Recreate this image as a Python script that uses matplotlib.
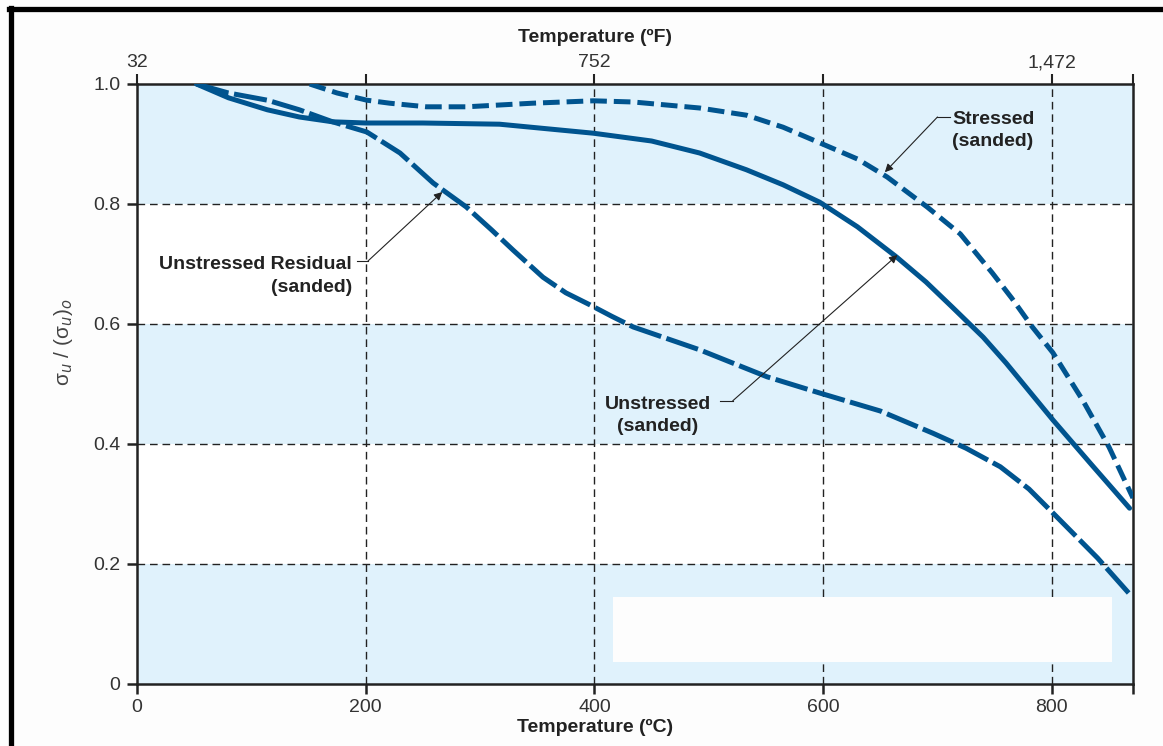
import matplotlib
matplotlib.use("Agg")
import matplotlib.pyplot as plt
from matplotlib.patches import Rectangle
from matplotlib.lines import Line2D

plt.rcParams['font.family'] = ['Liberation Sans', 'DejaVu Sans']
plt.rcParams['lines.scale_dashes'] = False

# temperature (C) vs normalised strength
t_unstressed = [52, 80, 114, 142, 171, 200, 250, 317, 399, 450, 492, 533, 565, 597, 630, 664, 690,
                713, 740, 760, 801, 835, 868]
s_unstressed = [1.0, 0.977, 0.957, 0.945, 0.937, 0.935, 0.935, 0.933, 0.918, 0.905, 0.885, 0.857,
                0.832, 0.803, 0.762, 0.712, 0.67, 0.628, 0.578, 0.535, 0.44, 0.365, 0.293]

t_residual = [52, 80, 114, 142, 171, 201, 230, 259, 288, 310, 329, 355, 375, 396, 415, 434, 492,
              551, 597, 650, 696, 725, 755, 780, 801, 840, 868]
s_residual = [1.0, 0.985, 0.973, 0.957, 0.937, 0.92, 0.885, 0.835, 0.795, 0.757, 0.723, 0.678,
              0.652, 0.632, 0.613, 0.595, 0.557, 0.512, 0.485, 0.455, 0.418, 0.393, 0.362, 0.325,
              0.285, 0.21, 0.15]

t_stressed = [151, 175, 201, 221, 253, 288, 346, 399, 434, 492, 533, 565, 597, 630, 656, 691, 720,
              748, 765, 783, 801, 827, 850, 871]
s_stressed = [1.0, 0.985, 0.973, 0.968, 0.962, 0.962, 0.968, 0.972, 0.97, 0.96, 0.948, 0.928, 0.902,
              0.875, 0.845, 0.795, 0.75, 0.685, 0.643, 0.595, 0.552, 0.473, 0.395, 0.31]

c_ticks = [0, 200, 400, 600, 800]
f_labels = ['32', '', '752', '', '1,472', '']
y_ticks = [0, 0.2, 0.4, 0.6, 0.8, 1.0]
y_labels = ['0', '0.2', '0.4', '0.6', '0.8', '1.0']

x_max = 871
blue = '#00548f'
band = '#e0f2fc'
ink = '#222222'
label_font = ['Liberation Sans Narrow', 'Liberation Sans', 'DejaVu Sans']

fig = plt.figure(figsize=(11.63, 7.46), dpi=100)
ax = fig.add_axes([137 / 1163, 1 - 684 / 746, 996 / 1163, 600 / 746])

for lo in [0.0, 0.4, 0.8]:
    ax.axhspan(lo, lo + 0.2, color=band, lw=0, zorder=0)

grid_kw = dict(color=ink, lw=1.0, linestyle=(0, (5.5, 3.5)), zorder=1)
for x in c_ticks[1:]:
    ax.axvline(x, **grid_kw)
for y in y_ticks[1:-1]:
    ax.axhline(y, **grid_kw)

# blank block near the bottom right
ax.add_patch(Rectangle((416, 0.037), 437, 0.108, facecolor='#fdfdfd', edgecolor='none', zorder=2))

ax.plot(t_unstressed, s_unstressed, color=blue, lw=3.6, solid_capstyle='round',
        solid_joinstyle='round', zorder=3)
ax.plot(t_residual, s_residual, color=blue, lw=3.6, linestyle=(0, (24, 4)), zorder=3)
ax.plot(t_stressed, s_stressed, color=blue, lw=3.6, linestyle=(0, (12, 5)), zorder=3)

# callouts
txt_kw = dict(fontsize=14, fontweight='bold', color=ink, family=label_font, linespacing=1.4)
arrow_kw = dict(arrowstyle='-|>', lw=0.8, color=ink, mutation_scale=12, shrinkA=0, shrinkB=0)

ax.text(713, 0.922, 'Stressed\n(sanded)', ha='left', va='center', **txt_kw)
ax.plot([711, 700], [0.945, 0.945], color=ink, lw=0.8, zorder=4)
ax.annotate('', xy=(654, 0.853), xytext=(700, 0.945), arrowprops=arrow_kw)

ax.text(188, 0.68, 'Unstressed Residual\n(sanded)', ha='right', va='center',
        multialignment='right', **txt_kw)
ax.plot([192, 202], [0.705, 0.705], color=ink, lw=0.8, zorder=4)
ax.annotate('', xy=(267, 0.82), xytext=(202, 0.705), arrowprops=arrow_kw)

ax.text(502, 0.447, 'Unstressed\n(sanded)', ha='right', va='center',
        multialignment='center', **txt_kw)
ax.plot([510, 521], [0.472, 0.472], color=ink, lw=0.8, zorder=4)
ax.annotate('', xy=(665, 0.715), xytext=(521, 0.472), arrowprops=arrow_kw)

ax.set_xlim(0, x_max)
ax.set_ylim(0, 1.0)
ax.set_xticks(c_ticks + [x_max])
ax.set_xticklabels([str(v) for v in c_ticks] + [''])
ax.set_yticks(y_ticks)
ax.set_yticklabels(y_labels)
ax.tick_params(axis='both', direction='out', length=7, width=1.8, color=ink,
               labelsize=14, labelcolor='#333333')
ax.tick_params(axis='y', pad=5)
ax.tick_params(axis='x', pad=4)
for s in ax.spines.values():
    s.set_color(ink)
    s.set_linewidth(1.8)

top = ax.secondary_xaxis('top')
top.set_xticks(c_ticks + [x_max])
top.set_xticklabels(f_labels)
top.tick_params(direction='out', length=7, width=1.5, color=ink, labelsize=14,
                labelcolor='#333333', pad=2)
top.spines['top'].set_visible(False)

ax.set_ylabel('σ$_u$ / (σ$_u$)$_o$', fontsize=15, color='#444444')
ax.yaxis.set_label_coords(-0.062, 0.57)

fig.text(595 / 1163, 1 - 727 / 746, 'Temperature (ºC)', ha='center', va='center',
         fontsize=14, fontweight='bold', color=ink, family=label_font)
fig.text(595 / 1163, 1 - 37 / 746, 'Temperature (ºF)', ha='center', va='center',
         fontsize=14, fontweight='bold', color=ink, family=label_font)

# heavy frame on the left and top
fig.add_artist(Line2D([10.5 / 1163, 10.5 / 1163], [0, 1 - 8 / 746], color='black', lw=3.8,
                      transform=fig.transFigure))
fig.add_artist(Line2D([8.5 / 1163, 1], [1 - 9 / 746, 1 - 9 / 746], color='black', lw=3.8,
                      transform=fig.transFigure))

fig.savefig('out.png', dpi=100, facecolor='#fdfdfd')
